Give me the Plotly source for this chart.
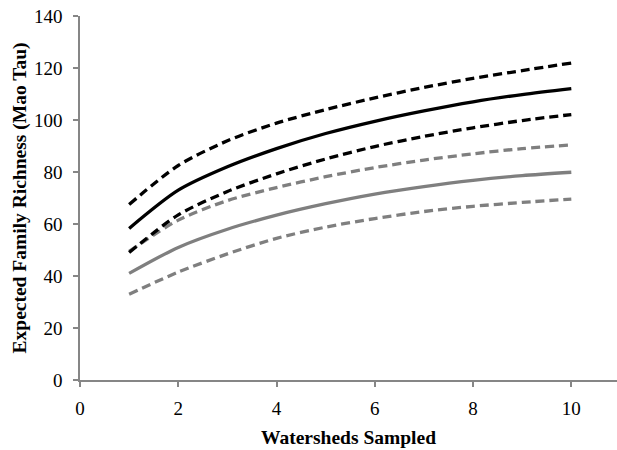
import plotly.graph_objects as go

watersheds = [1, 2, 3, 4, 5, 6, 7, 8, 9, 10]
black_mean = [58.3, 73, 82, 89, 94.8, 99.5, 103.5, 107, 109.8, 112.1]
black_upper = [67.5, 82.5, 92, 98.8, 104, 108.5, 112.5, 116, 119, 121.9]
black_lower = [49, 63.5, 72.5, 79.3, 85, 89.8, 93.7, 97, 99.8, 102.1]
gray_upper = [49.5, 61.5, 69, 74, 78.2, 81.7, 84.6, 87, 89, 90.4]
gray_mean = [41, 51, 58, 63.4, 67.8, 71.5, 74.4, 76.8, 78.6, 79.9]
gray_lower = [33, 41.5, 48.5, 54.5, 58.8, 62.1, 64.8, 66.8, 68.3, 69.6]

x_ticks = [0, 2, 4, 6, 8, 10]
y_ticks = [0, 20, 40, 60, 80, 100, 120, 140]

BLACK = "#000000"
GRAY = "#7f7f7f"
DASH = "9px,5px"
FONT = "Liberation Serif, Times New Roman, serif"

series = [
    (gray_lower, GRAY, DASH),
    (gray_upper, GRAY, DASH),
    (gray_mean, GRAY, "solid"),
    (black_lower, BLACK, DASH),
    (black_upper, BLACK, DASH),
    (black_mean, BLACK, "solid"),
]

fig = go.Figure()
for ys, color, dash in series:
    fig.add_trace(go.Scatter(
        x=watersheds, y=ys, mode="lines",
        line=dict(color=color, width=3.3, dash=dash, shape="spline", smoothing=0.8),
        showlegend=False, hoverinfo="skip",
    ))

axis_common = dict(
    showgrid=False, zeroline=False, showline=True, automargin=False,
    linecolor="#868686", linewidth=1.5,
    ticks="outside", ticklen=5, tickcolor="#868686", tickwidth=1.5,
    tickfont=dict(family=FONT, size=19, color="#000000"),
    ticklabeloverflow="allow",
)

fig.update_layout(
    width=617, height=450,
    margin=dict(l=80, r=0, t=16, b=70),
    paper_bgcolor="white", plot_bgcolor="white",
    xaxis=dict(
        range=[0, 10.93], tickvals=x_ticks, ticktext=[str(v) for v in x_ticks],
        ticklabelstandoff=5,
        title=dict(text="<b>Watersheds Sampled</b>", font=dict(family=FONT, size=19.5, color="#000000"), standoff=13),
        **axis_common,
    ),
    yaxis=dict(
        range=[0, 140], tickvals=y_ticks, ticktext=[str(v) for v in y_ticks],
        ticklabelstandoff=7,
        title=dict(text="<b>Expected Family Richness (Mao Tau)</b>", font=dict(family=FONT, size=19.5, color="#000000"), standoff=2),
        **axis_common,
    ),
)

# remove the browser's default 8px page margin so the figure fills the window exactly
fig.write_html("out.html", config={"displayModeBar": False},
               post_script="document.body.style.margin='0';")
